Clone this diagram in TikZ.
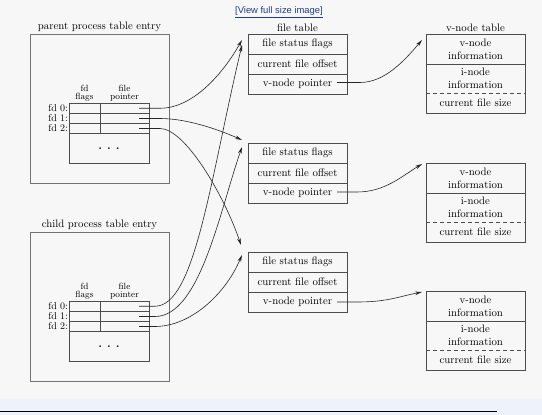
\documentclass[tikz,border=0pt]{standalone}
\usepackage{fontspec}
\newfontfamily\linkfont{Liberation Sans}
\usetikzlibrary{arrows.meta}
\definecolor{bg}{HTML}{F7F7F7}
\definecolor{band}{HTML}{EEF2FA}
\definecolor{linkblue}{HTML}{1F3C88}
\begin{document}
\begin{tikzpicture}[x=1pt,y=-1pt,
  every node/.style={inner sep=0pt, outer sep=0pt},
  txt/.style={font=\fontsize{10.8}{13}\selectfont, align=center},
  cell/.style={txt, draw=black!70, line width=0.7pt, minimum width=99pt, minimum height=20pt, anchor=north west},
  vcell/.style={txt, minimum width=99pt, anchor=north west},
  pbox/.style={draw=black!55, line width=0.8pt, minimum width=139pt, minimum height=149pt, anchor=north west},
  fcell/.style={draw=black!70, line width=0.7pt, minimum height=10pt, anchor=north west},
  hdr/.style={font=\fontsize{9}{8.6}\selectfont, align=center, anchor=south},
  fdl/.style={font=\fontsize{10}{11}\selectfont, anchor=east},
  ptr/.style={draw=black!85, line width=0.6pt, -{Stealth[length=7pt,width=3.6pt]}},
]
\useasboundingbox (0,0) rectangle (542,415);
\fill[bg] (0,0) rectangle (542,415);
\fill[band] (0,399) rectangle (542,415);
\draw[line width=1pt] (0,411) -- (497,411);

% link
\node[font=\linkfont\fontsize{9.4}{11}\selectfont, text=linkblue] (link) at (279,12.5) {\underline{[View full size image]}};

% process table entries
\foreach \pre/\oy/\ttl in {p/0/parent, c/198/child}{
  \node[pbox] (\pre box) at (30,34+\oy) {};
  \node[txt, anchor=south] (\pre title) at ([yshift=2pt]\pre box.north) {\ttl\ process table entry};
  \node[fcell, minimum width=31pt, minimum height=10.5pt] (\pre f0) at (69,103+\oy) {};
  \node[fcell, minimum width=49pt, minimum height=10.5pt] (\pre p0) at (100,103+\oy) {};
  \node[fcell, minimum width=31pt] (\pre f1) at (69,113.5+\oy) {};
  \node[fcell, minimum width=49pt] (\pre p1) at (100,113.5+\oy) {};
  \node[fcell, minimum width=31pt] (\pre f2) at (69,123.5+\oy) {};
  \node[fcell, minimum width=49pt] (\pre p2) at (100,123.5+\oy) {};
  \node[fcell, minimum width=80pt, minimum height=29.5pt] (\pre rest) at (69,133.5+\oy) {};
  \node[font=\fontsize{12}{12}\selectfont\bfseries] (\pre dots) at (\pre rest.center) {.\hspace{5pt}.\hspace{5pt}.};
  \node[hdr] (\pre hf) at ([yshift=1.5pt]\pre f0.north) {fd\\flags};
  \node[hdr] (\pre hp) at ([yshift=1.5pt]\pre p0.north) {file\\pointer};
  \node[fdl] (\pre l0) at ([xshift=-1pt]\pre f0.west) {fd 0:};
  \node[fdl] (\pre l1) at ([xshift=-1pt]\pre f1.west) {fd 1:};
  \node[fdl] (\pre l2) at ([xshift=-1pt]\pre f2.west) {fd 2:};
}

% file tables
\node[txt, anchor=south] (fttitle) at (297.5,32) {file table};
\foreach \t/\oy in {a/0, b/109, c/218}{
  \node[cell] (f\t1) at (248,34+\oy) {file status flags};
  \node[cell] (f\t2) at (248,54+\oy) {current file offset};
  \node[cell] (f\t3) at (248,74+\oy) {v-node pointer};
}

% v-node tables
\node[txt, anchor=south] (vttitle) at (475.5,32) {v-node table};
\foreach \t/\oy in {a/0, b/129, c/257}{
  \node[vcell, minimum height=30pt] (v\t1) at (426,34+\oy) {v-node\\information};
  \node[vcell, minimum height=29.5pt] (v\t2) at (426,64+\oy) {i-node\\information};
  \node[vcell, minimum height=19.5pt] (v\t3) at (426,93.5+\oy) {current file size};
  \draw[black!70, line width=0.7pt] (v\t1.north west) rectangle (v\t3.south east);
  \draw[black!70, line width=0.7pt] (v\t1.south west) -- (v\t1.south east);
  \draw[black!70, line width=0.7pt, dash pattern=on 4pt off 3pt] (v\t2.south west) -- (v\t2.south east);
}

% parent pointers
\draw[ptr] ([xshift=-10pt]pp0.east) -- ([xshift=11pt]pp0.east)
  .. controls +(35,0) and +(-17,30) .. ([xshift=-6pt,yshift=-6pt]fa1.north west);
\draw[ptr] ([xshift=-10pt]pp1.east) -- ([xshift=11pt]pp1.east)
  .. controls +(25,0) and +(-27,-12) .. ([xshift=-6pt,yshift=3pt]fb1.north west);
\draw[ptr] ([xshift=-10pt]pp2.east) -- ([xshift=11pt]pp2.east)
  .. controls +(25,0) and +(-17,-50) .. ([xshift=-7pt,yshift=7pt]fc1.north west);
% child pointers
\draw[ptr] ([xshift=-10pt]cp0.east) -- ([xshift=6pt]cp0.east)
  .. controls +(40,0) and +(-32,135) .. ([xshift=-6pt,yshift=-11pt]fa1.north west);
\draw[ptr] ([xshift=-10pt]cp1.east) -- ([xshift=6pt]cp1.east)
  .. controls +(45,0) and +(-22,63) .. ([xshift=-6pt,yshift=-4pt]fb1.north west);
\draw[ptr] ([xshift=-10pt]cp2.east) -- ([xshift=6pt]cp2.east)
  .. controls +(35,0) and +(-17,40) .. ([xshift=-6pt,yshift=-3pt]fc1.north west);

% v-node pointers
\draw[ptr] ([xshift=-10pt,yshift=1.5pt]fa3.east) -- ([xshift=13pt,yshift=1.5pt]fa3.east)
  .. controls +(25,0) and +(-17,20) .. ([xshift=-4pt,yshift=-6pt]va1.north west);
\draw[ptr] ([xshift=-10pt,yshift=1pt]fb3.east) -- ([xshift=10pt,yshift=1pt]fb3.east)
  .. controls +(28,0) and +(-20,12) .. ([xshift=-4pt,yshift=-1pt]vb1.north west);
\draw[ptr] ([xshift=-10pt,yshift=0pt]fc3.east) -- ([xshift=10pt]fc3.east)
  .. controls +(30,0) and +(-25,5) .. ([xshift=-4pt,yshift=-1pt]vc1.north west);
\end{tikzpicture}
\end{document}
